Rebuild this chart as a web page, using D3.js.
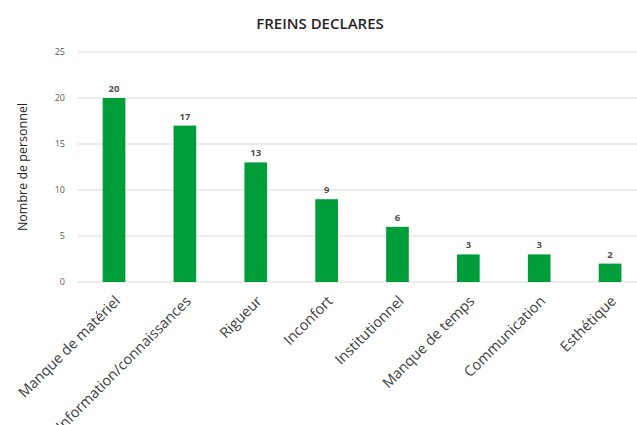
<!DOCTYPE html>
<html><head><meta charset="utf-8">
<script src="https://cdn.jsdelivr.net/npm/d3@7"></script>
<style>body{margin:0;background:#fff;} svg{display:block;}</style>
</head><body>
<script>
const categories = ["Manque de matériel","Information/connaissances","Rigueur","Inconfort","Institutionnel","Manque de temps","Communication","Esthétique"];
const values = [20,17,13,9,6,3,3,2];
const yTicks = [0,5,10,15,20,25];
const title = "FREINS DECLARES";
const yLabel = "Nombre de personnel";

const W=637,H=425;
const svg=d3.select("body").append("svg").attr("width",W).attr("height",H);
const font="'Open Sans', 'Liberation Sans', sans-serif";
const x=d3.scaleBand().domain(categories).range([78.6,645.5]).paddingInner(0.68).paddingOuter(0.34);
const y=d3.scaleLinear().domain([0,25]).range([282,52]);

// gridlines
svg.append("g").selectAll("line").data(yTicks).join("line")
  .attr("x1",78).attr("x2",W).attr("y1",d=>y(d)).attr("y2",d=>y(d))
  .attr("stroke","#d9d9d9").attr("stroke-width",1);

// y tick labels
const yAxis=svg.append("g").attr("transform","translate(65,0)")
  .call(d3.axisLeft(y).tickValues(yTicks).tickSize(0).tickPadding(0));
yAxis.select(".domain").remove();
yAxis.selectAll("text").attr("font-family",font).attr("font-size",9).attr("fill","#595959");

// bars
svg.append("g").selectAll("rect").data(values).join("rect")
  .attr("x",(d,i)=>x(categories[i])).attr("width",x.bandwidth())
  .attr("y",d=>y(d)).attr("height",d=>y(0)-y(d)).attr("fill","#009e3a");

// value labels
svg.append("g").selectAll("text").data(values).join("text")
  .attr("x",(d,i)=>x(categories[i])+x.bandwidth()/2).attr("y",d=>y(d)-6)
  .attr("text-anchor","middle").attr("font-family",font).attr("font-size",9.5)
  .attr("font-weight","bold").attr("fill","#505050").text(d=>d);

// x axis labels
const xAxis=svg.append("g").attr("transform",`translate(0,${y(0)})`)
  .call(d3.axisBottom(x).tickSize(0).tickPadding(0));
xAxis.select(".domain").remove();
xAxis.selectAll("text").attr("font-family",font).attr("font-size",14.5).attr("fill","#404040")
  .attr("text-anchor","end").attr("dy",null).attr("y",null)
  .attr("transform","translate(7,20) rotate(-45)");

// title
svg.append("text").attr("x",320).attr("y",29).attr("text-anchor","middle")
  .attr("font-family",font).attr("font-size",15).attr("font-weight",600).attr("fill","#262626").text(title);

// y label
svg.append("text").attr("transform","translate(27,167) rotate(-90)").attr("text-anchor","middle")
  .attr("font-family",font).attr("font-size",12.5).attr("fill","#262626").text(yLabel);
</script>
</body></html>
